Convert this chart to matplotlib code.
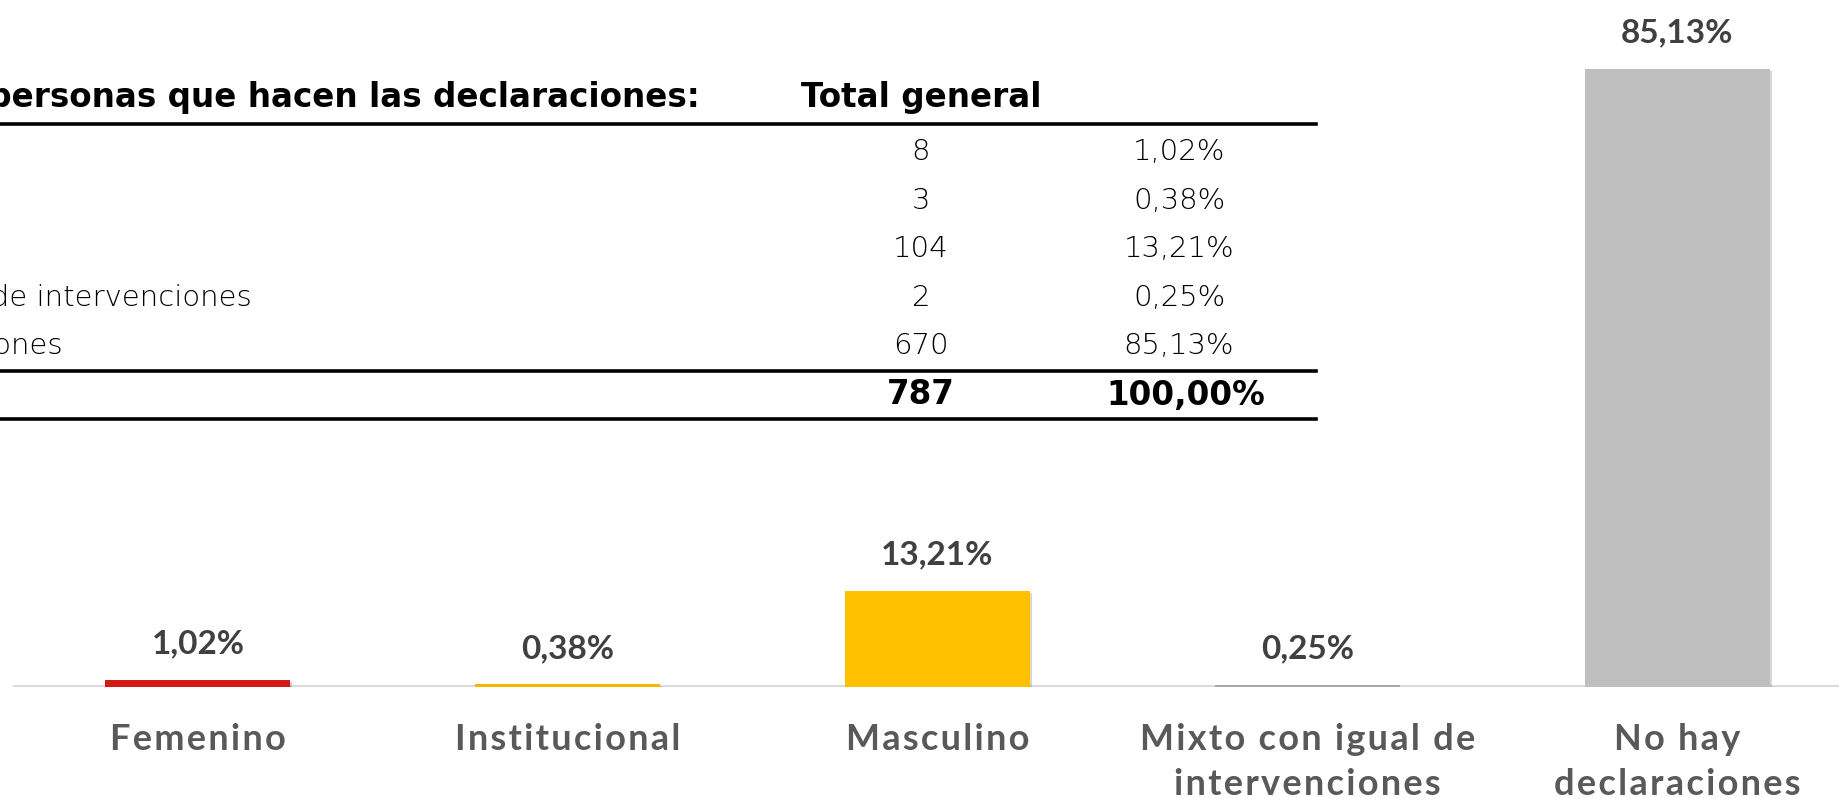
import matplotlib.pyplot as plt
from matplotlib.lines import Line2D
import matplotlib.patheffects as pe

# Datos
categorias = ["Femenino", "Institucional", "Masculino",
              "Mixto con igual de\nintervenciones", "No hay\ndeclaraciones"]
categorias_tabla = ["Femenino", "Institucional", "Masculino",
                    "Mixto con igual de intervenciones", "No hay declaraciones"]
conteos = [8, 3, 104, 2, 670]
porcentajes = [1.02, 0.38, 13.21, 0.25, 85.13]
colores = ["#D41A16", "#F5B800", "#FFC000", "#A6A6A6", "#BFBFBF"]

W, H = 1839, 798


def fmt_pct(v):
    return f"{v:.2f}".replace(".", ",") + "%"


def spaced(s):
    """Separa un poco las letras (como en el original)"""
    return "\n".join("\u200a".join(line) for line in s.split("\n"))


def px(x, y):
    """Convierte píxeles (desde arriba a la izquierda) a fracción de figura"""
    return x / W, 1 - y / H


fig = plt.figure(figsize=(W / 100, H / 100), dpi=100)

# Gráfico de barras
ax = fig.add_axes([13 / W, 111 / H, 1849 / W, 687 / H])
x = range(len(categorias))
bars = ax.bar(x, porcentajes, width=0.5, color=colores, zorder=3,
              path_effects=[pe.withSimplePatchShadow(offset=(1.5, -1.5), alpha=0.2), pe.Normal()])
ax.axhline(0, color="#D9D9D9", lw=3.5, zorder=2)

for b, v in zip(bars, porcentajes):
    ax.annotate(fmt_pct(v), (b.get_x() + b.get_width() / 2, v),
                xytext=(0, 19), textcoords="offset points",
                ha="center", va="baseline", fontsize=24, fontweight="bold",
                color="#404040", family="Lato")

ax.set_xlim(-0.5, 4.5)
ax.set_ylim(0, 94.6)
ax.set_xticks(list(x))
ax.set_xticklabels([spaced(c) for c in categorias], fontsize=26, fontweight="bold",
                   color="#595959", family=["Lato", "DejaVu Sans"], linespacing=1.45)
ax.tick_params(axis="x", length=0, pad=26)
ax.set_yticks([])
for s in ax.spines.values():
    s.set_visible(False)
ax.patch.set_alpha(0)

# Tabla superpuesta (recortada por la izquierda, como en el original)
cab = dict(fontsize=23.5, fontweight="bold", family="DejaVu Sans", color="black")
cuerpo = dict(fontsize=21, fontweight=200, family="DejaVu Sans", color="black")

fig.text(*px(700, 97), "Sexo de las personas que hacen las declaraciones:",
         ha="right", va="center", **cab)
fig.text(*px(801, 97), "Total general", ha="left", va="center", **cab)

filas_y = [152, 201, 249, 298, 346]
fin_etiqueta = [None, None, None, 252, 63]
for yy, nombre, fin, n, p in zip(filas_y, categorias_tabla, fin_etiqueta, conteos, porcentajes):
    if fin is not None:
        fig.text(*px(fin, yy), nombre, ha="right", va="center", **cuerpo)
    fig.text(*px(921, yy), str(n), ha="center", va="center", **cuerpo)
    fig.text(*px(1179, yy), fmt_pct(p), ha="center", va="center", **cuerpo)

total = sum(conteos)
fig.text(*px(921, 395), str(total), ha="center", va="center", **cab)
fig.text(*px(1186, 395), fmt_pct(100), ha="center", va="center", **cab)

for yy in [124, 371, 419]:
    x0, y0 = px(0, yy)
    x1, _ = px(1316, yy)
    fig.add_artist(Line2D([x0, x1], [y0, y0], color="black", lw=2.6))

fig.savefig("out.png", dpi=100)
